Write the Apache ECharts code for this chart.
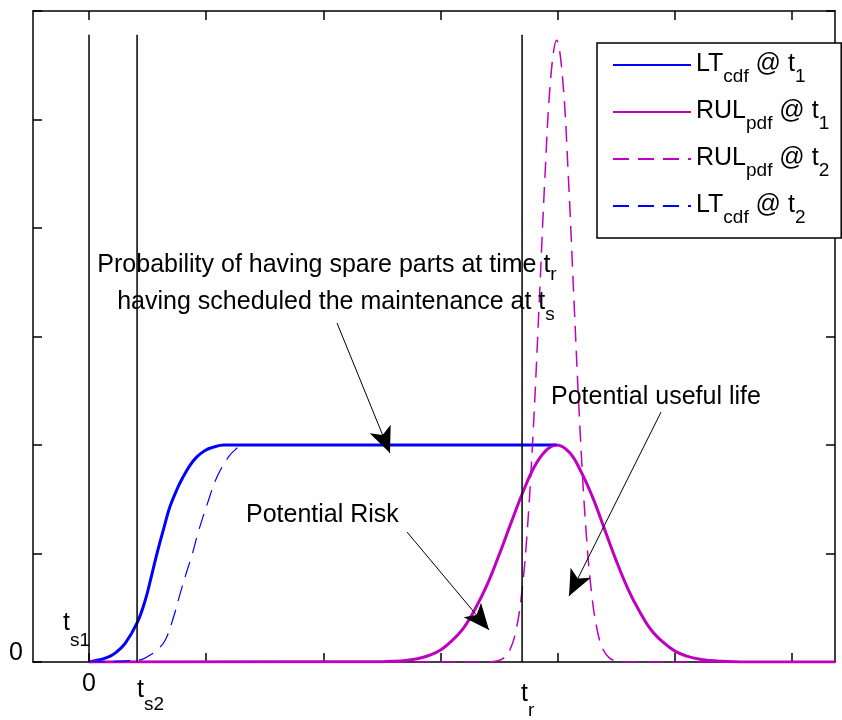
<!DOCTYPE html>
<html>
<head>
<meta charset="utf-8">
<script src="https://cdn.jsdelivr.net/npm/echarts@6/dist/echarts.min.js"></script>
<style>
  html, body { margin: 0; padding: 0; background: #fff; }
  #chart { width: 842px; height: 720px; }
</style>
</head>
<body>
<div id="chart"></div>
<script>
// Time runs along x (one unit per tick, origin at the first scheduling instant),
// probability mass / cumulative probability along y.
const xExtent = [-0.478, 6.365];
const yExtent = [0, 6];
const xTickValues = [0, 1, 2, 3, 4, 5, 6];

// Event instants on the time axis
const ts1 = 0;
const ts2 = 0.41;
const tr = 3.695;
const markerTop = 5.78;

// Lead-time CDF at the first and second scheduling instants
const ltCdfT1 = [
  [0, 0], [0.09, 0.02], [0.15, 0.04], [0.22, 0.08], [0.31, 0.175], [0.41, 0.36],
  [0.48, 0.57], [0.53, 0.78], [0.58, 1.0], [0.64, 1.24], [0.69, 1.43], [0.75, 1.59],
  [0.80, 1.70], [0.86, 1.81], [0.92, 1.89], [0.99, 1.95], [1.06, 1.98], [1.15, 2.0],
  [3.99, 2.0]
];
const ltCdfT2 = [
  [0, 0], [0.435, 0.02], [0.50, 0.05], [0.58, 0.11], [0.65, 0.20], [0.72, 0.41],
  [0.78, 0.64], [0.83, 0.82], [0.88, 0.99], [0.93, 1.19], [1.01, 1.46], [1.09, 1.70],
  [1.19, 1.89], [1.25, 1.96], [1.31, 2.0], [3.99, 2.0]
];

// Remaining-useful-life PDF at the two instants
const rulPdfT1 = [
  [0, 0], [2.5, 0.003], [2.6, 0.007], [2.7, 0.015], [2.8, 0.03], [2.9, 0.06],
  [3.0, 0.11], [3.1, 0.20], [3.2, 0.32], [3.3, 0.50], [3.4, 0.72], [3.5, 0.99],
  [3.6, 1.28], [3.7, 1.56], [3.8, 1.80], [3.9, 1.95], [3.99, 2.0], [4.1, 1.93],
  [4.2, 1.75], [4.3, 1.51], [4.4, 1.22], [4.5, 0.93], [4.6, 0.67], [4.7, 0.46],
  [4.8, 0.29], [4.9, 0.18], [5.0, 0.10], [5.1, 0.054], [5.2, 0.027], [5.3, 0.013],
  [5.4, 0.006], [5.5, 0.002], [5.6, 0], [6.365, 0]
];
const rulPdfT2 = [
  [0, 0], [3.39, 0], [3.49, 0.012], [3.54, 0.038], [3.59, 0.108], [3.64, 0.274],
  [3.69, 0.615], [3.74, 1.22], [3.79, 2.13], [3.84, 3.28], [3.89, 4.47], [3.94, 5.39],
  [3.99, 5.73], [4.04, 5.39], [4.09, 4.47], [4.14, 3.28], [4.19, 2.13], [4.24, 1.22],
  [4.29, 0.615], [4.34, 0.274], [4.39, 0.108], [4.44, 0.038], [4.49, 0.012], [4.59, 0],
  [6.365, 0]
];

const seriesNames = ['LT_cdf @ t_1', 'RUL_pdf @ t_1', 'RUL_pdf @ t_2', 'LT_cdf @ t_2'];
const legendLabels = {
  'LT_cdf @ t_1': '{m|LT}{s|cdf}{m| @ t}{s|1}',
  'RUL_pdf @ t_1': '{m|RUL}{s|pdf}{m| @ t}{s|1}',
  'RUL_pdf @ t_2': '{m|RUL}{s|pdf}{m| @ t}{s|2}',
  'LT_cdf @ t_2': '{m|LT}{s|cdf}{m| @ t}{s|2}'
};

const FONT = '"Liberation Sans", Arial, Helvetica, sans-serif';
const BLUE = '#0000ff';
const MAGENTA = '#bf00bf';
const DASH = [16, 9];

// main text token and subscript tokens (subscript dropped by padding)
function mainTok() {
  return { fontSize: 25, lineHeight: 26, verticalAlign: 'top', fontFamily: FONT, fill: '#000', color: '#000' };
}
function subTok(drop) {
  return { fontSize: 19, lineHeight: 20, padding: [drop, 0, 0, 0], verticalAlign: 'top', fontFamily: FONT, fill: '#000', color: '#000' };
}

function curve(name, data, color, width, dashed) {
  return {
    name, type: 'line', data, showSymbol: false, symbol: 'circle',
    smooth: 0.4, silent: true,
    lineStyle: { color, width, type: dashed ? DASH : 'solid', cap: 'butt' },
    itemStyle: { color },
    z: 2
  };
}
function marker(x) {
  return {
    type: 'line', data: [[x, 0], [x, markerTop]], showSymbol: false, symbol: 'none',
    silent: true, lineStyle: { color: '#000', width: 1.5 }, z: 3
  };
}
function arrow(from, to) {
  return [
    { coord: from, symbol: 'none' },
    { coord: to, symbol: 'arrow', symbolSize: [17, 26] }
  ];
}

const axisLineStyle = { show: true, onZero: false, lineStyle: { color: '#000', width: 1.5 } };
const tickStyle = { show: true, inside: true, length: 9, lineStyle: { color: '#000', width: 1.5 } };

const option = {
  animation: false,
  backgroundColor: '#fff',
  grid: { left: 33, top: 11, right: 7, bottom: 58, containLabel: false },
  xAxis: [
    {
      type: 'value', min: xExtent[0], max: xExtent[1], position: 'bottom',
      axisLine: axisLineStyle,
      axisTick: Object.assign({ customValues: xTickValues }, tickStyle),
      axisLabel: { show: false, customValues: xTickValues },
      splitLine: { show: false }
    },
    {
      type: 'value', min: xExtent[0], max: xExtent[1], position: 'top',
      axisLine: axisLineStyle,
      axisTick: Object.assign({ customValues: xTickValues }, tickStyle),
      axisLabel: { show: false, customValues: xTickValues },
      splitLine: { show: false }
    }
  ],
  yAxis: [
    {
      type: 'value', min: yExtent[0], max: yExtent[1], interval: 1, position: 'left',
      axisLine: axisLineStyle, axisTick: tickStyle, splitLine: { show: false },
      axisLabel: {
        show: true, margin: 10, fontSize: 25, fontFamily: FONT, color: '#000',
        lineHeight: 18, verticalAlign: 'bottom',
        formatter: v => (v === 0 ? '0' : '')
      }
    },
    {
      type: 'value', min: yExtent[0], max: yExtent[1], interval: 1, position: 'right',
      axisLine: axisLineStyle, axisTick: tickStyle, splitLine: { show: false },
      axisLabel: { show: false }
    }
  ],
  legend: {
    data: seriesNames,
    orient: 'vertical',
    left: 597, top: 43,
    padding: [9, 12, 11, 15],
    itemWidth: 78, itemHeight: 14, itemGap: 13,
    backgroundColor: '#fff', borderColor: '#000', borderWidth: 1.5,
    itemStyle: { opacity: 0 },
    selectedMode: false,
    formatter: name => legendLabels[name],
    textStyle: {
      fontFamily: FONT, fontSize: 25, color: '#000',
      rich: { m: mainTok(), s: subTok(15) }
    }
  },
  series: [
    curve(seriesNames[0], ltCdfT1, BLUE, 3, false),
    curve(seriesNames[1], rulPdfT1, MAGENTA, 3, false),
    curve(seriesNames[2], rulPdfT2, MAGENTA, 1.5, true),
    curve(seriesNames[3], ltCdfT2, BLUE, 1.2, true),
    marker(ts1), marker(ts2), marker(tr),
    {
      name: 'notes', type: 'line', data: [], silent: true, z: 4,
      markLine: {
        silent: true, animation: false,
        label: { show: false },
        lineStyle: { color: '#000', width: 1, type: 'solid' },
        itemStyle: { color: '#000' },
        data: [
          arrow([2.116, 3.124], [2.568, 1.926]),
          arrow([4.881, 2.304], [4.096, 0.608]),
          arrow([2.713, 1.198], [3.413, 0.295])
        ]
      }
    }
  ]
};

const chart = echarts.init(document.getElementById('chart'), null, { renderer: 'canvas' });
chart.setOption(option);

// Time-axis labels and annotations placed through the axis scale
const px = v => chart.convertToPixel({ xAxisIndex: 0 }, v);
function label(x, y, text, align, drop) {
  return {
    type: 'text', silent: true, z: 10,
    style: {
      x, y, text, align, verticalAlign: 'top',
      rich: { m: mainTok(), s: subTok(drop) }
    }
  };
}
chart.setOption({
  graphic: [
    label(px(ts1), 672, '{m|0}', 'center', 0),
    label(px(ts2), 678, '{m|t}{s|s2}', 'left', 17),
    label(px(tr) - 1, 682, '{m|t}{s|r}', 'left', 19),
    label(px(ts1) + 1, 611, '{m|t}{s|s1}', 'right', 20),
    label(327, 253, '{m|Probability of having spare parts at time t}{s|r}', 'center', 12),
    label(336, 290, '{m|having scheduled the maintenance at t}{s|s}', 'center', 15),
    label(551, 385, '{m|Potential useful life}', 'left', 0),
    label(246, 503, '{m|Potential Risk}', 'left', 0)
  ]
});
</script>
</body>
</html>
